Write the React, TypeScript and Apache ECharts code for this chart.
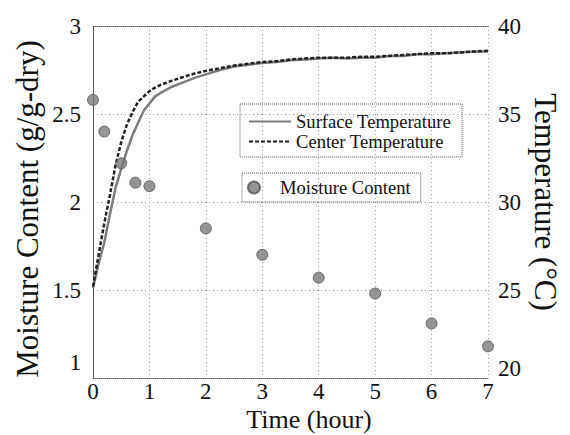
import React, { useEffect, useRef } from "react";
import * as echarts from "echarts";

const timeTicks = [0, 1, 2, 3, 4, 5, 6, 7];

const moistureTime = [0, 0.2, 0.5, 0.75, 1, 2, 3, 4, 5, 6, 7];
const moistureValues = [2.58, 2.4, 2.22, 2.11, 2.09, 1.85, 1.7, 1.57, 1.48, 1.31, 1.18];

const surfaceTime = [0, 0.1, 0.2, 0.3, 0.4, 0.5, 0.6, 0.7, 0.8, 0.9, 1.0, 1.1, 1.2, 1.4, 1.6, 1.8, 2.0, 2.25, 2.5, 2.75, 3.0, 3.25, 3.5, 3.75, 4.0, 4.25, 4.5, 4.75, 5.0, 5.25, 5.5, 5.75, 6.0, 6.25, 6.5, 6.75, 7.0];
const surfaceTemp = [25.1, 26.5, 27.7, 29.3, 30.8, 31.9, 32.9, 33.8, 34.5, 35.2, 35.6, 36.0, 36.2, 36.55, 36.8, 37.05, 37.25, 37.5, 37.7, 37.8, 37.9, 37.95, 38.05, 38.1, 38.15, 38.2, 38.15, 38.2, 38.2, 38.3, 38.3, 38.4, 38.4, 38.45, 38.5, 38.55, 38.55];

const centerTime = [0, 0.1, 0.2, 0.3, 0.4, 0.5, 0.6, 0.7, 0.8, 0.9, 1.0, 1.1, 1.2, 1.4, 1.6, 1.8, 2.0, 2.25, 2.5, 2.75, 3.0, 3.25, 3.5, 3.75, 4.0, 4.25, 4.5, 4.75, 5.0, 5.25, 5.5, 5.75, 6.0, 6.25, 6.5, 6.75, 7.0];
const centerTemp = [25.2, 27.0, 28.8, 30.4, 32.1, 33.4, 34.4, 35.1, 35.7, 36.0, 36.3, 36.5, 36.65, 36.9, 37.1, 37.3, 37.45, 37.6, 37.75, 37.85, 37.95, 38.0, 38.1, 38.15, 38.2, 38.2, 38.2, 38.25, 38.25, 38.3, 38.35, 38.4, 38.45, 38.45, 38.5, 38.55, 38.6];

const FONT = "Liberation Serif";

export default function App() {
  const ref = useRef<HTMLDivElement>(null);

  useEffect(() => {
    document.body.style.margin = "0";
    const chart = echarts.init(ref.current!, null, { renderer: "svg" });
    const borderLine = { show: true, lineStyle: { color: "#555", type: [1, 1] as any, width: 1 } };
    const gridLine = { show: true, lineStyle: { color: "#9a9a9a", type: [1, 3] as any, width: 1 } };
    const labelBase = { fontFamily: FONT, fontSize: 23, color: "#111" };
    const legendText = { fontFamily: FONT, fontSize: 18.6, color: "#111" };

    chart.setOption({
      animation: false,
      backgroundColor: "#fff",
      grid: { left: 93, right: 82, top: 26, bottom: 57, containLabel: false },
      xAxis: [
        {
          type: "value",
          min: 0,
          max: 7,
          interval: 1,
          position: "bottom",
          axisLine: borderLine,
          axisTick: { show: false },
          splitLine: gridLine,
          axisLabel: { ...labelBase, margin: 2, formatter: (v: number) => (timeTicks.includes(v) ? String(v) : "") },
        },
        {
          type: "value",
          min: 0,
          max: 7,
          interval: 1,
          position: "top",
          axisLine: { ...borderLine, onZero: false },
          axisTick: { show: false },
          splitLine: { show: false },
          axisLabel: { show: false },
        },
      ],
      yAxis: [
        {
          type: "value",
          min: 1,
          max: 3,
          interval: 0.5,
          position: "left",
          axisLine: borderLine,
          axisTick: { show: false },
          splitLine: gridLine,
          axisLabel: {
            ...labelBase,
            margin: 12,
            formatter: (v: number) => (v === 1 ? "{lo|1}" : String(v)),
            rich: { lo: { ...labelBase, padding: [0, 0, 32, 0] } },
          },
        },
        {
          type: "value",
          min: 20,
          max: 40,
          interval: 5,
          position: "right",
          axisLine: borderLine,
          axisTick: { show: false },
          splitLine: { show: false },
          axisLabel: {
            ...labelBase,
            margin: 10,
            formatter: (v: number) => (v === 20 ? "{lo|20}" : String(v)),
            rich: { lo: { ...labelBase, padding: [0, 0, 20, 0] } },
          },
        },
      ],
      legend: [
        {
          data: ["Surface Temperature", "Center Temperature"],
          orient: "vertical",
          left: 240,
          top: 104,
          itemWidth: 42,
          itemHeight: 14,
          itemGap: 1,
          padding: [8, 11, 6, 8],
          borderColor: "#555",
          borderWidth: 1,
          borderType: [1, 1],
          selectedMode: false,
          itemStyle: { color: "rgba(0,0,0,0)", borderWidth: 0, opacity: 0 },
          textStyle: legendText,
        },
        {
          data: ["Moisture Content"],
          orient: "vertical",
          left: 242,
          top: 173,
          itemWidth: 42,
          itemHeight: 12,
          padding: [5, 10, 5, 5],
          borderColor: "#555",
          borderWidth: 1,
          borderType: [1, 1],
          selectedMode: false,
          textStyle: legendText,
        },
      ],
      series: [
        {
          name: "Surface Temperature",
          type: "line",
          xAxisIndex: 0,
          yAxisIndex: 1,
          symbol: "none",
          data: surfaceTime.map((t, i) => [t, surfaceTemp[i]]),
          lineStyle: { color: "#7d7d7d", width: 2.5 },
          itemStyle: { color: "#7d7d7d" },
          z: 2,
        },
        {
          name: "Center Temperature",
          type: "line",
          xAxisIndex: 0,
          yAxisIndex: 1,
          symbol: "none",
          data: centerTime.map((t, i) => [t, centerTemp[i]]),
          lineStyle: { color: "#222", width: 2.5, type: [4, 2] },
          itemStyle: { color: "#222" },
          z: 3,
        },
        {
          name: "Moisture Content",
          type: "scatter",
          xAxisIndex: 0,
          yAxisIndex: 0,
          symbol: "circle",
          symbolSize: 11,
          clip: false,
          data: moistureTime.map((t, i) => [t, moistureValues[i]]),
          itemStyle: { color: "#7a7a7a", borderColor: "#555", borderWidth: 1 },
          z: 4,
        },
      ],
      graphic: [
        {
          type: "text",
          x: 27,
          y: 209,
          rotation: Math.PI / 2,
          style: {
            text: "Moisture Content (g/g-dry)",
            font: `31px '${FONT}'`,
            fill: "#111",
            textAlign: "center",
            textVerticalAlign: "middle",
          },
        },
        {
          type: "text",
          x: 545,
          y: 202,
          rotation: -Math.PI / 2,
          style: {
            text: "Temperature (°C)",
            font: `31px '${FONT}'`,
            fill: "#111",
            textAlign: "center",
            textVerticalAlign: "middle",
          },
        },
        {
          type: "text",
          x: 309,
          y: 419,
          style: {
            text: "Time (hour)",
            font: `26px '${FONT}'`,
            fill: "#111",
            textAlign: "center",
            textVerticalAlign: "middle",
          },
        },
      ],
    });
    return () => chart.dispose();
  }, []);

  return <div ref={ref} style={{ width: 570, height: 435, position: "absolute", left: 0, top: 0 }} />;
}
